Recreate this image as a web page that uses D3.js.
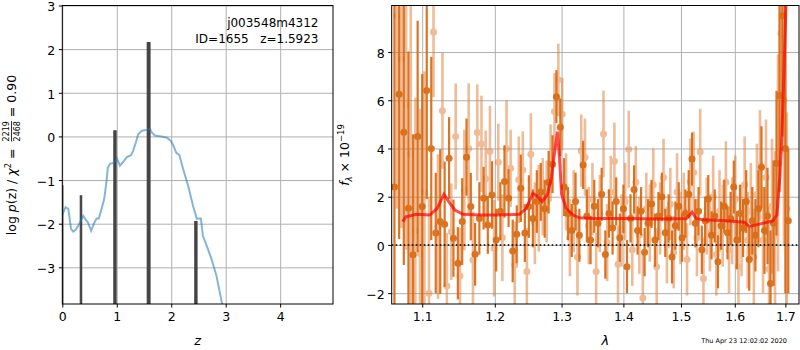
<!DOCTYPE html>
<html>
<head>
<meta charset="utf-8">
<script src="https://cdn.jsdelivr.net/npm/d3@7"></script>
<style>
  body { margin: 0; background: #fff; }
  svg { font-family: "DejaVu Sans", sans-serif; }
</style>
</head>
<body>
<svg id="chart" width="800" height="350"></svg>
<script>
// ---- left panel: p(z) ----
let pzZ = [0.0, 0.06, 0.11, 0.16, 0.2, 0.245, 0.29, 0.34, 0.385, 0.42, 0.47, 0.53, 0.59, 0.63, 0.67, 0.72, 0.77, 0.81, 0.835, 0.875, 0.955, 1.0, 1.06, 1.12, 1.18, 1.26, 1.30, 1.35, 1.395, 1.46, 1.55, 1.61, 1.65, 1.70, 1.82, 1.92, 1.99, 2.04, 2.09, 2.15, 2.22, 2.31, 2.40, 2.47, 2.51, 2.545, 2.58, 2.65, 2.74, 2.83, 2.925, 2.96];
let pzLog = [-1.8, -1.62, -1.66, -2.12, -2.18, -2.14, -2.05, -1.93, -1.82, -1.89, -1.97, -2.16, -1.97, -1.88, -1.88, -1.66, -1.43, -1.05, -0.72, -0.63, -0.6, -0.5, -0.67, -0.58, -0.48, -0.43, -0.33, -0.14, 0.05, 0.13, 0.15, 0.17, 0.08, 0.02, 0.0, -0.03, -0.1, -0.21, -0.37, -0.43, -0.75, -1.13, -1.59, -1.89, -1.88, -1.88, -2.27, -2.5, -2.81, -3.19, -3.78, -3.95];

// fine-grid peaks
let peakZ = [0.005, 0.343, 0.967, 1.585, 2.453];
let peakLog = [-1.13, -1.36, 0.13, 2.15, -1.95];
let peakWidth = [0.01, 0.025, 0.04, 0.05, 0.04];

let objName = "j003548m4312";
let objInfo = "ID=1655   z=1.5923";
let chi2Num = "2219", chi2Den = "2468", chi2Ratio = "0.90";
let stamp = "Thu Apr 23 12:02:02 2020";

let zTicks = [0, 1, 2, 3, 4];
let logTicks = [-3, -2, -1, 0, 1, 2, 3];

// ---- right panel: spectrum ----
let lamTicks = [1.1, 1.2, 1.3, 1.4, 1.5, 1.6, 1.7];
let fluxTicks = [-2, 0, 2, 4, 6, 8];

// [lambda, flux, err]  darker beam
let specA = [
  [1.064, 2.40, 9.0], [1.070, 6.25, 6.0], [1.076, 4.67, 5.5], [1.082, 1.52, 6.5], [1.088, -0.41, 5.0],
  [1.094, 4.50, 4.8], [1.100, 1.59, 5.5], [1.106, 6.40, 4.5], [1.112, 4.00, 3.8], [1.118, 0.49, 2.5],
  [1.124, 0.97, 3.0], [1.130, 0.86, 2.6], [1.136, 3.60, 1.7], [1.142, 0.28, 1.6], [1.148, -0.76, 1.5],
  [1.154, 0.97, 1.8], [1.160, 3.64, 1.6], [1.166, 1.59, 1.4], [1.172, -0.39, 1.3], [1.178, 1.10, 1.5],
  [1.184, 1.94, 1.3], [1.190, 0.83, 1.2], [1.196, 2.07, 1.4], [1.202, 0.20, 1.3], [1.208, 1.40, 1.2],
  [1.214, 2.63, 1.5], [1.220, 1.94, 1.2], [1.226, -0.25, 1.3], [1.232, 0.44, 1.2], [1.238, 2.35, 1.4],
  [1.244, 0.49, 1.2], [1.250, 1.59, 1.3], [1.256, 1.10, 1.2], [1.262, 1.80, 1.3], [1.268, 2.20, 1.2],
  [1.274, 1.50, 1.2], [1.280, 2.60, 1.3], [1.286, 3.35, 1.2], [1.292, 6.15, 1.1], [1.298, 4.88, 1.2],
  [1.304, 2.40, 1.2], [1.310, 1.30, 1.1], [1.316, 0.60, 1.1], [1.322, 1.80, 1.2], [1.328, 0.40, 1.1],
  [1.334, 3.32, 1.0], [1.340, 1.20, 1.1], [1.346, 0.20, 1.0], [1.352, 1.60, 1.1], [1.358, 0.90, 1.0],
  [1.364, 2.10, 1.1], [1.370, -0.40, 1.0], [1.376, 1.30, 1.0], [1.382, 0.70, 1.1], [1.388, 1.80, 1.0],
  [1.394, 0.30, 1.0], [1.400, 1.50, 1.0], [1.406, -0.90, 1.1], [1.412, 1.10, 1.0], [1.418, 2.30, 1.0],
  [1.424, 0.60, 1.0], [1.430, 1.40, 1.0], [1.436, -0.30, 1.0], [1.442, 0.90, 1.0], [1.448, 1.70, 1.0],
  [1.454, 0.20, 1.1], [1.460, 1.20, 1.0], [1.466, 2.00, 1.0], [1.472, 0.50, 1.0], [1.478, 1.10, 1.0],
  [1.484, -0.50, 1.1], [1.490, 0.80, 1.0], [1.496, 1.60, 1.0], [1.502, 0.30, 1.0], [1.508, 1.30, 1.0],
  [1.514, 2.10, 1.0], [1.520, 3.56, 1.1], [1.526, 0.90, 1.0], [1.532, 1.40, 1.0], [1.538, -0.20, 1.0],
  [1.544, 1.00, 1.0], [1.550, 1.90, 1.0], [1.556, 0.40, 1.0], [1.562, 1.20, 1.1], [1.568, -0.70, 1.1],
  [1.574, 0.80, 1.0], [1.580, 1.60, 1.1], [1.586, 0.50, 1.1], [1.592, 1.10, 1.1], [1.598, 2.40, 1.1],
  [1.604, 0.20, 1.2], [1.610, 1.30, 1.2], [1.616, 0.70, 1.2], [1.622, 1.80, 1.3], [1.628, -0.60, 1.3],
  [1.634, 1.00, 1.4], [1.640, 0.40, 1.5], [1.646, 1.50, 1.6], [1.652, 3.22, 1.7], [1.658, 0.60, 1.8],
  [1.664, 1.20, 2.0], [1.670, -1.60, 2.2], [1.676, 0.90, 2.6], [1.682, 3.39, 3.0], [1.688, 6.20, 4.0],
  [1.694, 9.50, 5.0], [1.700, 4.00, 6.0], [1.706, 1.00, 3.0]
];

// lighter beam
let specB = [
  [1.067, 9.50, 8.0], [1.073, 7.70, 7.0], [1.079, 5.80, 6.0], [1.085, 3.78, 7.0], [1.091, 0.60, 5.5],
  [1.097, -0.35, 6.0], [1.103, 2.20, 5.0], [1.109, -2.00, 4.0], [1.115, 8.83, 2.7], [1.121, 0.76, 3.0],
  [1.127, 5.56, 2.4], [1.133, -1.70, 2.2], [1.139, 0.55, 2.0], [1.145, 4.50, 2.2], [1.151, -1.29, 2.0],
  [1.157, 2.28, 2.5], [1.163, 4.00, 2.7], [1.169, -0.62, 2.0], [1.175, 4.66, 2.0], [1.181, 4.19, 2.0],
  [1.187, 2.74, 2.0], [1.193, 3.87, 1.9], [1.199, -0.14, 2.0], [1.205, 3.43, 1.6], [1.211, 0.30, 1.8],
  [1.217, 4.00, 2.0], [1.223, 3.18, 1.6], [1.229, -0.83, 1.8], [1.235, 2.70, 1.8], [1.241, 3.11, 1.6],
  [1.247, -1.10, 1.8], [1.253, 3.76, 1.7], [1.259, 0.90, 1.7], [1.265, 1.52, 1.8], [1.271, 2.00, 1.6],
  [1.277, 1.80, 1.7], [1.283, 3.40, 1.6], [1.289, 5.53, 1.6], [1.295, 6.85, 1.5], [1.301, 5.42, 1.5],
  [1.307, 2.20, 1.6], [1.313, 0.30, 1.6], [1.319, 1.40, 1.7], [1.325, -0.50, 1.6], [1.331, 3.91, 1.5],
  [1.337, 3.64, 1.6], [1.343, 0.80, 1.6], [1.349, 1.90, 1.5], [1.355, -1.10, 1.6], [1.361, 1.30, 1.6],
  [1.367, 4.60, 1.8], [1.373, 0.10, 1.6], [1.379, 2.20, 1.5], [1.385, 3.47, 1.6], [1.391, -0.80, 1.6],
  [1.397, 0.60, 1.5], [1.403, 1.80, 1.6], [1.409, 3.97, 1.6], [1.415, -0.20, 1.5], [1.421, 2.60, 1.5],
  [1.427, 0.40, 1.6], [1.433, -2.20, 1.8], [1.439, 1.50, 1.5], [1.445, 0.90, 1.6], [1.451, 2.50, 1.5],
  [1.457, -0.90, 1.6], [1.463, 1.10, 1.5], [1.469, 2.80, 1.6], [1.475, 0.00, 1.6], [1.481, 1.70, 1.5],
  [1.487, -0.30, 1.5], [1.493, 2.20, 1.6], [1.499, 0.70, 1.5], [1.505, 1.40, 1.6], [1.511, -0.60, 1.5],
  [1.517, 2.62, 1.8], [1.523, 3.00, 1.7], [1.529, 0.30, 1.6], [1.535, 3.85, 1.8], [1.541, -1.40, 1.7],
  [1.547, 1.20, 1.6], [1.553, 0.50, 1.6], [1.559, 2.00, 1.7], [1.565, -0.40, 1.7], [1.571, 1.40, 1.7],
  [1.577, 0.80, 1.7], [1.583, 2.60, 1.7], [1.589, -0.20, 1.8], [1.595, 1.00, 1.8], [1.601, 1.90, 1.8],
  [1.607, -0.90, 1.8], [1.613, 0.60, 1.9], [1.619, 2.50, 2.0], [1.625, 0.20, 2.0], [1.631, 1.40, 2.0],
  [1.637, -0.50, 2.0], [1.643, 2.10, 2.1], [1.649, 3.30, 2.3], [1.655, 0.20, 2.2], [1.661, 2.80, 2.4],
  [1.667, -1.00, 2.6], [1.673, 1.60, 2.8], [1.679, 0.40, 3.5], [1.685, 3.40, 4.5], [1.691, 8.78, 5.0],
  [1.697, 6.00, 6.0], [1.703, 1.50, 4.0]
];

// best-fit model
let modelLam = [1.0745, 1.0787, 1.0926, 1.110, 1.120, 1.129, 1.137, 1.144, 1.155, 1.179, 1.202, 1.236, 1.246, 1.256, 1.264, 1.270, 1.278, 1.284, 1.288, 1.2936, 1.297, 1.300, 1.307, 1.318, 1.328, 1.35, 1.405, 1.462, 1.51, 1.52, 1.5276, 1.54, 1.583, 1.6187, 1.628, 1.635, 1.6745, 1.6826, 1.686, 1.689, 1.693, 1.697, 1.700, 1.703];
let modelFlux = [0.97, 1.17, 1.27, 1.24, 1.52, 2.1, 1.73, 1.45, 1.27, 1.24, 1.24, 1.27, 1.52, 2.14, 2.0, 1.8, 2.07, 2.77, 3.6, 4.7, 3.5, 2.1, 1.52, 1.24, 1.13, 1.10, 1.10, 1.08, 1.10, 1.36, 1.10, 1.04, 1.0, 0.94, 0.76, 0.8, 1.0, 1.24, 2.07, 2.9, 4.6, 7.1, 9.1, 11.5];

let svg = d3.select("#chart");

function getChartConfig() {
    let left = { x0: 62.3, x1: 333, y0: 5.5, y1: 304 };
    let right = { x0: 391.7, x1: 799, y0: 5.5, y1: 304 };
    return { left, right };
}

function getScales(config) {
    let { left, right } = config;
    let xZ = d3.scaleLinear().domain([0, 4.97]).range([left.x0, left.x1]);
    let yP = d3.scaleLinear().domain([-3.84, 3.0]).range([left.y1, left.y0]);
    let xLam = d3.scaleLog().domain([1.0605, 1.728]).range([right.x0, right.x1]);
    let yF = d3.scaleLinear().domain([-2.45, 9.93]).range([right.y1, right.y0]);
    return { xZ, yP, xLam, yF };
}

function drawFrame(box, xScale, yScale, xt, yt, xfmt, yfmt) {
    // grid, drawn as axes with full-length ticks
    svg.append("g")
        .attr("class", "grid")
        .attr("transform", "translate(0," + box.y1 + ")")
        .call(d3.axisBottom(xScale).tickValues(xt).tickSize(-(box.y1 - box.y0)).tickFormat(""))
        .call(a => a.select(".domain").remove())
        .selectAll("line").attr("stroke", "#b0b0b0").attr("stroke-width", 1);
    svg.append("g")
        .attr("class", "grid")
        .attr("transform", "translate(" + box.x0 + ",0)")
        .call(d3.axisLeft(yScale).tickValues(yt).tickSize(-(box.x1 - box.x0)).tickFormat(""))
        .call(a => a.select(".domain").remove())
        .selectAll("line").attr("stroke", "#b0b0b0").attr("stroke-width", 1);

    let xAxis = d3.axisBottom(xScale).tickValues(xt).tickSize(3.5).tickPadding(5).tickFormat(xfmt);
    svg.append("g")
        .attr("transform", "translate(0," + box.y1 + ")")
        .call(xAxis)
        .call(a => a.select(".domain").remove())
        .selectAll("text").style("font-size", "12.5px").style("font-family", "DejaVu Sans").attr("fill", "#000");

    let yAxis = d3.axisLeft(yScale).tickValues(yt).tickSize(3.5).tickPadding(3.5).tickFormat(yfmt);
    svg.append("g")
        .attr("transform", "translate(" + box.x0 + ",0)")
        .call(yAxis)
        .call(a => a.select(".domain").remove())
        .selectAll("text").attr("dy", "0.42em")
        .style("font-size", "12.5px").style("font-family", "DejaVu Sans").attr("fill", "#000");
}

function drawBorder(box) {
    svg.append("rect")
        .attr("x", box.x0).attr("y", box.y0)
        .attr("width", box.x1 - box.x0).attr("height", box.y1 - box.y0)
        .attr("fill", "none").attr("stroke", "#000").attr("stroke-width", 1);
}

function addClip(id, box) {
    svg.append("defs").append("clipPath").attr("id", id).append("rect")
        .attr("x", box.x0).attr("y", box.y0)
        .attr("width", box.x1 - box.x0).attr("height", box.y1 - box.y0);
}

function drawPz(config, scales) {
    let { left } = config;
    let { xZ, yP } = scales;
    addClip("clipL", left);
    drawFrame(left, xZ, yP, zTicks, logTicks, d3.format("d"), d3.format("d"));

    let g = svg.append("g").attr("clip-path", "url(#clipL)");

    // peaks from the fine redshift grid
    peakZ.forEach((z, i) => {
        let w = peakWidth[i] / 2;
        let p = d3.path();
        p.moveTo(xZ(z - w), left.y1 + 2);
        p.lineTo(xZ(z - w), yP(peakLog[i]));
        p.lineTo(xZ(z + w), yP(peakLog[i]));
        p.lineTo(xZ(z + w), left.y1 + 2);
        g.append("path").attr("d", p.toString())
            .attr("fill", "#444").attr("stroke", "#444").attr("stroke-width", 1.2);
    });

    let line = d3.line().x((d, i) => xZ(pzZ[i])).y(d => yP(d));
    g.append("path").datum(pzLog)
        .attr("d", line)
        .attr("fill", "none")
        .attr("stroke", "#1f77b4")
        .attr("stroke-opacity", 0.55)
        .attr("stroke-width", 2);

    drawBorder(left);

    svg.append("text").attr("x", 318.5).attr("y", 27).attr("text-anchor", "end")
        .style("font-size", "12px").text(objName);
    svg.append("text").attr("x", 318.5).attr("y", 42.5).attr("text-anchor", "end")
        .style("font-size", "12px").style("white-space", "pre").text(objInfo);

    svg.append("text").attr("x", (left.x0 + left.x1) / 2).attr("y", 345)
        .attr("text-anchor", "middle").style("font-size", "13px").style("font-style", "italic").text("z");

    // y label with stacked fraction
    let lab = svg.append("g").attr("transform", "translate(16,155) rotate(-90)");
    let inner = lab.append("g");
    let t1 = inner.append("text").style("font-size", "12.5px");
    t1.append("tspan").text("log ");
    t1.append("tspan").style("font-style", "italic").text("p");
    t1.append("tspan").text("(z) / ");
    t1.append("tspan").style("font-style", "italic").text("χ");
    t1.append("tspan").attr("dy", -5).style("font-size", "8.5px").text("2");
    t1.append("tspan").attr("dy", 5).style("white-space", "pre").text(" = ");
    let w1 = t1.node().getComputedTextLength() + 3;
    let num = inner.append("text").attr("x", w1).attr("y", -7).style("font-size", "8px").text(chi2Num);
    let den = inner.append("text").attr("x", w1).attr("y", 3.5).style("font-size", "8px").text(chi2Den);
    let fw = Math.max(num.node().getComputedTextLength(), den.node().getComputedTextLength());
    num.attr("x", w1 + (fw - num.node().getComputedTextLength()) / 2);
    den.attr("x", w1 + (fw - den.node().getComputedTextLength()) / 2);
    inner.append("line").attr("x1", w1).attr("x2", w1 + fw).attr("y1", -4.5).attr("y2", -4.5)
        .attr("stroke", "#000").attr("stroke-width", 0.8);
    let t2 = inner.append("text").attr("x", w1 + fw).style("font-size", "12.5px").style("white-space", "pre")
        .text(" = " + chi2Ratio);
    let total = w1 + fw + t2.node().getComputedTextLength();
    inner.attr("transform", "translate(" + (-total / 2) + ",0)");
}

function drawSpec(config, scales) {
    let { right } = config;
    let { xLam, yF } = scales;
    addClip("clipR", right);
    drawFrame(right, xLam, yF, lamTicks, fluxTicks, d3.format(".1f"), d3.format("d"));

    let g = svg.append("g").attr("clip-path", "url(#clipR)");

    function drawBeam(data, color, opacity, bw) {
        let b = g.append("g").attr("opacity", opacity);
        b.selectAll("line").data(data).enter().append("line")
            .attr("x1", d => xLam(d[0])).attr("x2", d => xLam(d[0]))
            .attr("y1", d => yF(d[1] - d[2])).attr("y2", d => yF(d[1] + d[2]))
            .attr("stroke", color).attr("stroke-width", bw);
        b.selectAll("circle").data(data).enter().append("circle")
            .attr("cx", d => xLam(d[0])).attr("cy", d => yF(d[1]))
            .attr("r", 3.5).attr("fill", color);
    }
    drawBeam(specB, "#e07a30", 0.5, 2.6);
    drawBeam(specA, "#d8650c", 0.9, 2.2);

    g.append("line")
        .attr("x1", right.x0).attr("x2", right.x1)
        .attr("y1", yF(0)).attr("y2", yF(0))
        .attr("stroke", "#000").attr("stroke-width", 1.6).attr("stroke-dasharray", "1.6,2.4");

    let line = d3.line().x((d, i) => xLam(modelLam[i])).y(d => yF(d));
    g.append("path").datum(modelFlux)
        .attr("d", line)
        .attr("fill", "none")
        .attr("stroke", "#ff0000")
        .attr("stroke-opacity", 0.7)
        .attr("stroke-width", 3);

    drawBorder(right);

    svg.append("text").attr("x", xLam(1.37)).attr("y", 345)
        .attr("text-anchor", "middle").style("font-size", "13px").style("font-style", "italic").text("λ");

    let lab = svg.append("g").attr("transform", "translate(349,155) rotate(-90)");
    let t = lab.append("text").attr("text-anchor", "middle").style("font-size", "12.5px");
    t.append("tspan").style("font-style", "italic").text("f");
    t.append("tspan").attr("dy", 3).style("font-size", "8.5px").style("font-style", "italic").text("λ");
    t.append("tspan").attr("dy", -3).style("white-space", "pre").text(" × 10");
    t.append("tspan").attr("dy", -5).style("font-size", "8.5px").text("−19");

    svg.append("text").attr("x", 787).attr("y", 343).attr("text-anchor", "end")
        .style("font-size", "6.5px").text(stamp);
}

function drawChart() {
    let config = getChartConfig();
    let scales = getScales(config);
    drawPz(config, scales);
    drawSpec(config, scales);
}

drawChart();
</script>
</body>
</html>
